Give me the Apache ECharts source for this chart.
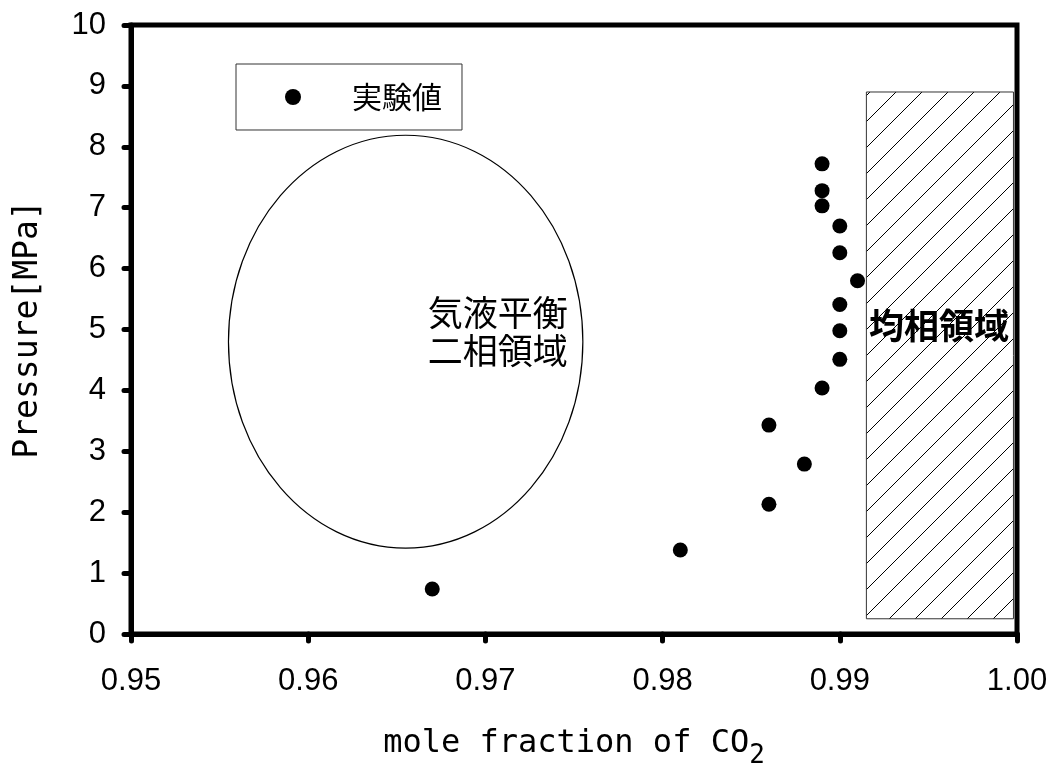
<!DOCTYPE html>
<html>
<head>
<meta charset="utf-8">
<script src="https://cdn.jsdelivr.net/npm/echarts@6/dist/echarts.min.js"></script>
<style>
  html, body { margin: 0; padding: 0; background: #fff; }
  #chart { width: 1053px; height: 765px; }
</style>
</head>
<body>
<div id="chart"></div>
<script>
// Measured CO2 mole fraction vs pressure
const moleFraction = [0.967, 0.981, 0.986, 0.986, 0.988, 0.989, 0.990, 0.990, 0.990, 0.991, 0.990, 0.990, 0.989, 0.989, 0.989];
const pressureMPa  = [0.74, 1.38, 2.13, 3.43, 2.79, 4.04, 4.51, 4.98, 5.41, 5.80, 6.26, 6.70, 7.03, 7.28, 7.72];

// Two-phase region outline (ellipse): centre and semi-axes in data units
const twoPhaseCenter = [0.9655, 4.80];
const twoPhaseRadius = [0.0100, 3.39];

// Homogeneous region (hatched box): [xMin, xMax, yMin, yMax]
const homogeneousBox = [0.9915, 0.9998, 0.25, 8.90];

// Region captions
const regionText = ['気液平衡\n二相領域', '均相領域'];
const regionX    = [0.9707, 0.9956];
const regionY    = [4.97, 5.07];
const regionBold = [false, true];

const seriesName = '実験値';
const xTitle = 'mole fraction of CO{sub|2}';
const yTitle = 'Pressure[MPa]';

// diagonal hatch tile
const tile = document.createElement('canvas');
tile.width = 26; tile.height = 26;
const tctx = tile.getContext('2d');
tctx.strokeStyle = '#000';
tctx.lineWidth = 1;
tctx.beginPath();
tctx.moveTo(-2, 28); tctx.lineTo(28, -2);
tctx.moveTo(-2, 2); tctx.lineTo(2, -2);
tctx.moveTo(24, 28); tctx.lineTo(28, 24);
tctx.stroke();

const chart = echarts.init(document.getElementById('chart'), null, { renderer: 'canvas' });

const numFont = 'Liberation Sans, Arial, sans-serif';
const monoFont = 'DejaVu Sans Mono, monospace';
const cjkFont = 'Noto Sans CJK JP, sans-serif';

chart.setOption({
  animation: false,
  backgroundColor: '#fff',
  grid: {
    left: 131, right: 36, top: 25, bottom: 131,
    outerBoundsMode: 'none',
    containLabel: false,
    show: true, borderColor: '#000', borderWidth: 5
  },
  legend: {
    data: [seriesName],
    left: 236, top: 64,
    orient: 'horizontal',
    padding: [18, 20, 18, 49],
    borderColor: '#333', borderWidth: 1, borderRadius: 0,
    itemWidth: 16, itemHeight: 16,
    icon: 'circle',
    itemStyle: { color: '#000', opacity: 1 },
    textStyle: { fontFamily: cjkFont, fontSize: 30, color: '#000', padding: [0, 0, 0, 46] }
  },
  xAxis: {
    type: 'value',
    min: 0.95, max: 1.0, interval: 0.01,
    name: xTitle,
    nameLocation: 'middle',
    nameGap: 85,
    nameTextStyle: {
      fontFamily: monoFont, fontSize: 32, color: '#000',
      rich: { sub: { fontFamily: monoFont, fontSize: 26, color: '#000', verticalAlign: 'bottom', lineHeight: 50 } }
    },
    axisLine: { show: true, onZero: false, lineStyle: { color: '#000', width: 5 } },
    axisTick: { show: true, inside: false, length: 7, lineStyle: { color: '#000', width: 5, cap: 'round' } },
    axisLabel: {
      margin: 32, fontFamily: numFont, fontSize: 31, color: '#000',
      formatter: v => v.toFixed(2)
    },
    splitLine: { show: false }
  },
  yAxis: {
    type: 'value',
    min: 0, max: 10, interval: 1,
    name: yTitle,
    nameLocation: 'middle',
    nameRotate: 90,
    nameGap: 86,
    nameTextStyle: { fontFamily: monoFont, fontSize: 33, color: '#000' },
    axisLine: { show: true, onZero: false, lineStyle: { color: '#000', width: 5 } },
    axisTick: { show: true, inside: false, length: 7, lineStyle: { color: '#000', width: 5, cap: 'round' } },
    axisLabel: { margin: 25, fontFamily: numFont, fontSize: 31, color: '#000' },
    splitLine: { show: false }
  },
  series: [
    {
      // hatched homogeneous region
      type: 'custom',
      silent: true,
      z: 1,
      data: [homogeneousBox],
      renderItem: function (params, api) {
        const p0 = api.coord([api.value(0), api.value(3)]);
        const p1 = api.coord([api.value(1), api.value(2)]);
        return {
          type: 'rect',
          shape: { x: p0[0], y: p0[1], width: p1[0] - p0[0], height: p1[1] - p0[1] },
          style: { fill: { image: tile, repeat: 'repeat' }, stroke: '#333', lineWidth: 1 }
        };
      }
    },
    {
      // two-phase region outline
      type: 'custom',
      silent: true,
      z: 2,
      data: [[twoPhaseCenter[0], twoPhaseCenter[1], twoPhaseRadius[0], twoPhaseRadius[1]]],
      renderItem: function (params, api) {
        const c = api.coord([api.value(0), api.value(1)]);
        const s = api.size([api.value(2), api.value(3)]);
        return {
          type: 'ellipse',
          shape: { cx: c[0], cy: c[1], rx: s[0], ry: s[1] },
          style: { fill: null, stroke: '#000', lineWidth: 1.2 }
        };
      }
    },
    {
      // region captions
      type: 'custom',
      silent: true,
      z: 3,
      data: regionText.map((t, i) => [regionX[i], regionY[i], i]),
      renderItem: function (params, api) {
        const i = api.value(2);
        const c = api.coord([api.value(0), api.value(1)]);
        return {
          type: 'text',
          x: c[0], y: c[1],
          style: {
            text: regionText[i],
            fontFamily: cjkFont,
            fontSize: 35,
            fontWeight: regionBold[i] ? 'bold' : 'normal',
            lineHeight: 38,
            fill: '#000',
            align: 'center',
            verticalAlign: 'middle'
          }
        };
      }
    },
    {
      name: seriesName,
      type: 'scatter',
      z: 5,
      symbol: 'circle',
      symbolSize: 15,
      itemStyle: { color: '#000', opacity: 1 },
      data: moleFraction.map((x, i) => [x, pressureMPa[i]])
    }
  ]
});
</script>
</body>
</html>
